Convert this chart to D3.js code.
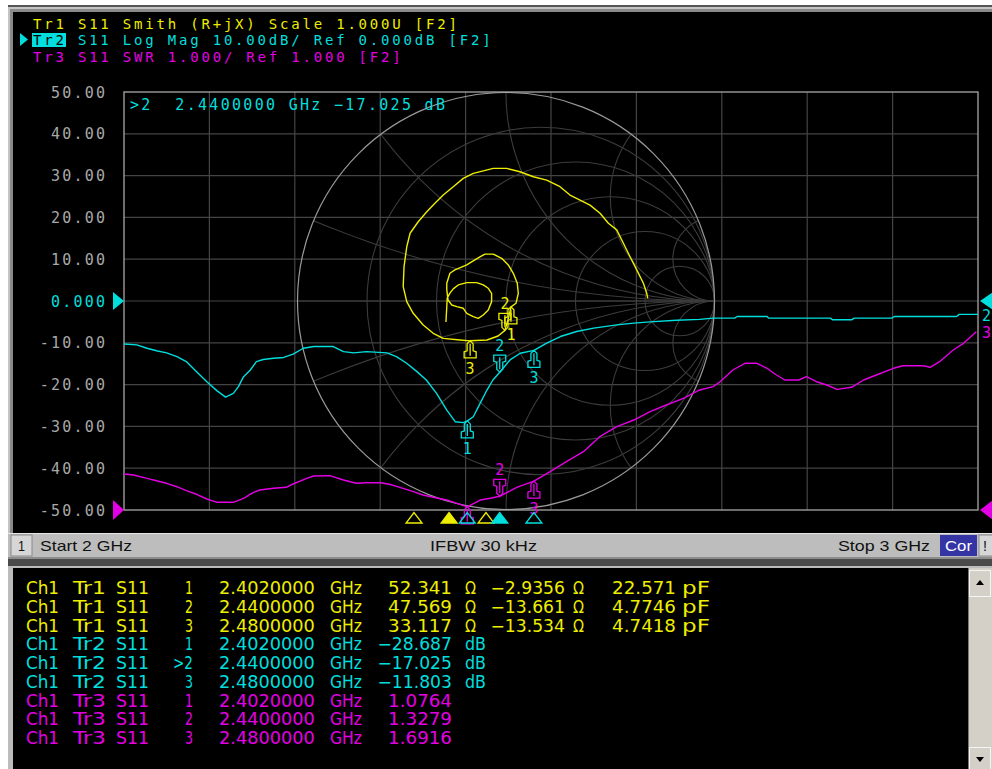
<!DOCTYPE html>
<html><head><meta charset="utf-8">
<script src="https://cdn.jsdelivr.net/npm/d3@7"></script>
<style>html,body{margin:0;padding:0;background:#fff;overflow:hidden}</style>
</head><body><svg id="c" width="992" height="769"></svg>
<script>
// ---- channel settings ----
const startGHz = 2, stopGHz = 3;
const yTicks = [50, 40, 30, 20, 10, 0, -10, -20, -30, -40, -50];
const yTickLabels = ["50.00", "40.00", "30.00", "20.00", "10.00", "0.000", "-10.00", "-20.00", "-30.00", "-40.00", "-50.00"];
const traceNames = ["Tr1", "Tr2", "Tr3"];
const traceSettings = [
  "S11 Smith (R+jX) Scale 1.000U [F2]",
  "S11 Log Mag 10.00dB/ Ref 0.000dB [F2]",
  "S11 SWR 1.000/ Ref 1.000 [F2]"
];
const smithR = [0.2, 0.5, 1, 2, 5];
const smithX = [0.2, 0.5, 1, 2, 5];

// ---- Tr2: S11 log magnitude (dB) ----
const tr2Freq = [2.000, 2.015, 2.027, 2.038, 2.050, 2.062, 2.073, 2.085, 2.097, 2.109, 2.119, 2.128, 2.134, 2.140, 2.148, 2.155, 2.163, 2.175, 2.187, 2.198, 2.210, 2.222, 2.245, 2.257, 2.269, 2.284, 2.308, 2.319, 2.331, 2.343, 2.354, 2.366, 2.378, 2.388, 2.397, 2.402, 2.409, 2.417, 2.425, 2.432, 2.440, 2.452, 2.464, 2.480, 2.495, 2.511, 2.530, 2.550, 2.577, 2.597, 2.616, 2.647, 2.674, 2.690, 2.715, 2.718, 2.753, 2.755, 2.827, 2.830, 2.852, 2.855, 2.899, 2.902, 2.975, 2.978, 3.000];
const tr2Db = [-10.3, -10.5, -11.3, -11.9, -12.4, -13.3, -14.5, -16.9, -19.3, -21.5, -23.0, -22.1, -20.5, -18.1, -16.5, -14.5, -14.0, -13.7, -13.5, -12.7, -11.3, -10.9, -10.9, -12.1, -12.4, -12.1, -12.4, -13.3, -14.9, -16.9, -18.9, -22.1, -26.1, -28.9, -29.1, -28.687, -27.7, -24.5, -21.3, -18.9, -17.025, -14.1, -12.5, -11.803, -10.1, -8.5, -7.3, -6.5, -5.7, -5.3, -5.0, -4.6, -4.4, -4.1, -4.1, -3.7, -3.7, -4.1, -4.1, -4.5, -4.5, -4.1, -4.1, -3.7, -3.7, -3.2, -3.2];

// ---- Tr3: S11 SWR ----
const tr3Freq = [2.000, 2.011, 2.027, 2.038, 2.050, 2.062, 2.073, 2.085, 2.097, 2.109, 2.128, 2.140, 2.151, 2.159, 2.175, 2.190, 2.198, 2.214, 2.222, 2.241, 2.257, 2.272, 2.284, 2.300, 2.311, 2.323, 2.339, 2.350, 2.362, 2.378, 2.390, 2.402, 2.417, 2.429, 2.440, 2.460, 2.480, 2.499, 2.518, 2.538, 2.557, 2.577, 2.597, 2.616, 2.635, 2.655, 2.674, 2.690, 2.698, 2.713, 2.727, 2.741, 2.753, 2.764, 2.774, 2.790, 2.799, 2.811, 2.823, 2.835, 2.852, 2.866, 2.881, 2.901, 2.912, 2.936, 2.944, 2.955, 2.971, 2.983, 2.998];
const tr3Swr = [1.861, 1.837, 1.758, 1.701, 1.639, 1.557, 1.462, 1.376, 1.263, 1.184, 1.184, 1.280, 1.414, 1.478, 1.519, 1.543, 1.622, 1.758, 1.813, 1.821, 1.718, 1.639, 1.653, 1.653, 1.615, 1.543, 1.438, 1.359, 1.304, 1.239, 1.160, 1.0764, 1.239, 1.280, 1.3279, 1.543, 1.6916, 1.916, 2.156, 2.395, 2.754, 2.993, 3.153, 3.352, 3.512, 3.672, 3.871, 3.950, 4.069, 4.349, 4.510, 4.510, 4.390, 4.230, 4.110, 4.110, 4.189, 4.069, 3.990, 3.887, 3.935, 4.110, 4.230, 4.390, 4.452, 4.452, 4.414, 4.548, 4.828, 4.988, 5.266];

// ---- Tr1: S11 reflection coefficient (real, imag), 2 GHz -> 3 GHz ----
const tr1Re = [-0.288, -0.284, -0.282, -0.269, -0.253, -0.229, -0.188, -0.141, -0.109, -0.085, -0.069, -0.069, -0.085, -0.109, -0.133, -0.157, -0.188, -0.205, -0.236, -0.260, -0.278, -0.284, -0.284, -0.269, -0.245, -0.188, -0.165, -0.125, -0.101, -0.061, -0.021, 0.011, 0.035, 0.054, 0.059, 0.048, 0.024, 0.012, -0.005, -0.038, -0.091, -0.172, -0.221, -0.301, -0.349, -0.397, -0.445, -0.476, -0.493, -0.489, -0.476, -0.460, -0.421, -0.380, -0.341, -0.301, -0.253, -0.205, -0.157, -0.061, 0.003, 0.067, 0.131, 0.195, 0.259, 0.307, 0.355, 0.403, 0.451, 0.491, 0.531, 0.563, 0.595, 0.627, 0.659, 0.675, 0.680];
const tr1Im = [-0.101, -0.027, 0.014, 0.038, 0.058, 0.077, 0.088, 0.088, 0.077, 0.061, 0.037, -0.003, -0.043, -0.067, -0.083, -0.075, -0.059, -0.035, -0.027, -0.019, 0.005, 0.053, 0.085, 0.133, 0.149, 0.173, 0.188, 0.212, 0.225, 0.225, 0.205, 0.173, 0.133, 0.085, 0.037, -0.011, -0.028, -0.082, -0.141, -0.168, -0.187, -0.191, -0.187, -0.179, -0.155, -0.115, -0.059, -0.003, 0.069, 0.165, 0.260, 0.325, 0.380, 0.428, 0.469, 0.508, 0.548, 0.588, 0.612, 0.636, 0.636, 0.620, 0.596, 0.580, 0.548, 0.508, 0.484, 0.460, 0.421, 0.373, 0.341, 0.277, 0.212, 0.149, 0.085, 0.037, 0.013];

// ---- markers ----
const markerFreq = [2.402, 2.44, 2.48];
const markerNames = ["1", "2", "3"];
const activeMarker = 1;
const tr1MarkR = [52.341, 47.569, 33.117];
const tr1MarkX = [-2.9356, -13.661, -13.534];
const tr1MarkC = [22.571, 4.7746, 4.7418];
const tr2MarkDb = [-28.687, -17.025, -11.803];
const tr3MarkSwr = [1.0764, 1.3279, 1.6916];
const z0 = 50;

// ---- status bar ----
const statusStart = "Start 2 GHz";
const statusIfbw = "IFBW 30 kHz";
const statusStop = "Stop 3 GHz";

const YELLOW = "#eeee00", CYAN = "#00dede", MAGENTA = "#e400e4";
const GRID = "#444", FRAME = "#a8a8a8", LABEL = "#a8a8a8";
const MONO = "'DejaVu Sans Mono', monospace";
const LS = 2.2;              // extra letter spacing of the instrument font (15px)
const TITLE_SIZE = 14;       // title lines
const TITLE_LS = 2.8;
const TITLE_ADV = 0.602 * TITLE_SIZE + TITLE_LS;

const svg = d3.select("#c");
svg.append("rect").attr("width", 992).attr("height", 769).attr("fill", "#fff");

// ---- window chrome ----
svg.append("rect").attr("x", 8).attr("y", 5).attr("width", 984).attr("height", 2).attr("fill", "#555");
svg.append("rect").attr("x", 8).attr("y", 7).attr("width", 984).attr("height", 560).attr("fill", "#c4c4c4");
svg.append("rect").attr("x", 10).attr("y", 9).attr("width", 982).attr("height", 524).attr("fill", "#8a8a8a");
svg.append("rect").attr("x", 13).attr("y", 12).attr("width", 979).attr("height", 521).attr("fill", "#000");

// ---- scales ----
const plot = { left: 124, right: 978, top: 92, bottom: 510 };
const x = d3.scaleLinear().domain([startGHz, stopGHz]).range([plot.left, plot.right]);
const yDb = d3.scaleLinear().domain([-50, 50]).range([plot.bottom, plot.top]);
const ySwr = d3.scaleLinear().domain([1, 11]).range([plot.bottom, plot.top]);
const smith = { cx: 506, cy: 301, r: 208.5 };
const gx = d3.scaleLinear().domain([-1, 1]).range([smith.cx - smith.r, smith.cx + smith.r]);
const gy = d3.scaleLinear().domain([-1, 1]).range([smith.cy + smith.r, smith.cy - smith.r]);
// stimulus position of the Smith trace markers on the marker bar
const xBar1 = d3.scaleLinear().domain([startGHz, stopGHz]).range([43, 966]);

const defs = svg.append("defs");
defs.append("clipPath").attr("id", "plotClip").append("rect")
  .attr("x", plot.left).attr("y", plot.top).attr("width", plot.right - plot.left).attr("height", plot.bottom - plot.top);
defs.append("clipPath").attr("id", "smithClip").append("circle")
  .attr("cx", smith.cx).attr("cy", smith.cy).attr("r", smith.r);

// ---- rectangular grid ----
const grid = svg.append("g").attr("stroke", GRID).attr("stroke-width", 1.2).attr("fill", "none");
grid.selectAll("line.v").data(d3.range(1, 10)).join("line")
  .attr("x1", i => x(startGHz + i * (stopGHz - startGHz) / 10)).attr("x2", i => x(startGHz + i * (stopGHz - startGHz) / 10))
  .attr("y1", plot.top).attr("y2", plot.bottom);
grid.selectAll("line.h").data(yTicks.slice(1, -1)).join("line")
  .attr("x1", plot.left).attr("x2", plot.right).attr("y1", d => yDb(d)).attr("y2", d => yDb(d));

// ---- Smith chart grid ----
const sg = svg.append("g").attr("clip-path", "url(#smithClip)").attr("stroke", "#3c3c3c").attr("stroke-width", 1.1).attr("fill", "none");
sg.selectAll("circle.r").data(smithR).join("circle")
  .attr("cx", r => gx(r / (1 + r))).attr("cy", gy(0)).attr("r", r => smith.r / (1 + r));
const xArcs = smithX.flatMap(v => [v, -v]);
sg.selectAll("circle.x").data(xArcs).join("circle")
  .attr("cx", gx(1)).attr("cy", v => gy(1 / v)).attr("r", v => smith.r / Math.abs(v));
sg.append("line").attr("x1", gx(-1)).attr("x2", gx(1)).attr("y1", gy(0)).attr("y2", gy(0));
svg.append("circle").attr("cx", smith.cx).attr("cy", smith.cy).attr("r", smith.r)
  .attr("fill", "none").attr("stroke", "#9a9a9a").attr("stroke-width", 1.2);

// ---- plot frame ----
svg.append("rect").attr("x", plot.left).attr("y", plot.top).attr("width", plot.right - plot.left).attr("height", plot.bottom - plot.top)
  .attr("fill", "none").attr("stroke", FRAME).attr("stroke-width", 1.3);

// ---- traces ----
const traces = svg.append("g").attr("clip-path", "url(#plotClip)").attr("fill", "none").attr("stroke-width", 1.4).attr("stroke-linejoin", "round");
const swrPts = tr3Freq.map((f, i) => [f, tr3Swr[i]]);
traces.append("path").attr("stroke", MAGENTA)
  .attr("d", d3.line().x(d => x(d[0])).y(d => ySwr(d[1]))(swrPts));
const dbPts = tr2Freq.map((f, i) => [f, tr2Db[i]]);
traces.append("path").attr("stroke", CYAN)
  .attr("d", d3.line().x(d => x(d[0])).y(d => yDb(d[1]))(dbPts));
const gPts = tr1Re.map((r, i) => [r, tr1Im[i]]);
traces.append("path").attr("stroke", YELLOW)
  .attr("d", d3.line().x(d => gx(d[0])).y(d => gy(d[1]))(gPts));

// ---- marker symbols ----
function markerPath(dir) {
  const s = dir;
  return `M0,0 L-3,${3 * s} L-3,${10 * s} L-6,${11 * s} L-6,${17 * s} L6,${17 * s} L6,${11 * s} L3,${10 * s} L3,${3 * s} Z M0,${3 * s} L0,${15 * s}`;
}
function drawMarker(px, py, name, color, up) {
  const dir = up ? -1 : 1;
  const g = svg.append("g").attr("transform", `translate(${px},${py})`);
  g.append("path").attr("d", markerPath(dir)).attr("fill", "none").attr("stroke", color).attr("stroke-width", 1.3);
  const ly = up ? -21 : 33;
  // a label that would fall under the status bar is not shown
  if (py + ly < plot.bottom + 18) {
    g.append("text").attr("x", 0).attr("y", ly).attr("text-anchor", "middle")
      .attr("fill", color).style("font-family", MONO).style("font-size", "15px").text(name);
  }
}
function gammaOf(R, X) {
  const zr = R / z0, zi = X / z0;
  const nr = zr - 1, ni = zi, dr = zr + 1, di = zi;
  const den = dr * dr + di * di;
  return [(nr * dr + ni * di) / den, (ni * dr - nr * di) / den];
}
markerFreq.forEach((f, i) => drawMarker(x(f), ySwr(tr3MarkSwr[i]), markerNames[i], MAGENTA, i === activeMarker));
markerFreq.forEach((f, i) => drawMarker(x(f), yDb(tr2MarkDb[i]), markerNames[i], CYAN, i === activeMarker));
markerFreq.forEach((f, i) => {
  const g = gammaOf(tr1MarkR[i], tr1MarkX[i]);
  drawMarker(gx(g[0]), gy(g[1]), markerNames[i], YELLOW, i === activeMarker);
});

// ---- marker bar below the graticule ----
function barTri(px, color, filled) {
  svg.append("path").attr("d", `M${px},${plot.bottom + 2.5} L${px - 8},${plot.bottom + 13} L${px + 8},${plot.bottom + 13} Z`)
    .attr("fill", filled ? color : "none").attr("stroke", color).attr("stroke-width", 1.3);
}
markerFreq.forEach((f, i) => barTri(xBar1(f), YELLOW, i === activeMarker));
markerFreq.forEach((f, i) => barTri(x(f), CYAN, i === activeMarker));

// ---- reference-position arrows and trace-end labels ----
svg.append("path").attr("d", `M${plot.left - 11},${yDb(0) - 9} L${plot.left},${yDb(0)} L${plot.left - 11},${yDb(0) + 9} Z`).attr("fill", CYAN);
svg.append("path").attr("d", `M${plot.left - 11},${ySwr(1) - 10} L${plot.left},${ySwr(1)} L${plot.left - 11},${ySwr(1) + 10} Z`).attr("fill", MAGENTA);
svg.append("text").attr("x", plot.right + 4).attr("y", yDb(tr2Db[tr2Db.length - 1]) + 7)
  .attr("fill", CYAN).style("font-family", MONO).style("font-size", "15px").text("2");
svg.append("text").attr("x", plot.right + 4).attr("y", ySwr(tr3Swr[tr3Swr.length - 1]) + 6)
  .attr("fill", MAGENTA).style("font-family", MONO).style("font-size", "15px").text("3");
svg.append("path").attr("d", `M${plot.right + 2},${yDb(0)} L${plot.right + 15},${yDb(0) - 9} L${plot.right + 15},${yDb(0) + 9} Z`).attr("fill", CYAN);
svg.append("path").attr("d", `M${plot.right + 2},${ySwr(1)} L${plot.right + 15},${ySwr(1) - 10} L${plot.right + 15},${ySwr(1) + 10} Z`).attr("fill", MAGENTA);

// ---- y tick labels ----
svg.append("g").selectAll("text").data(yTicks).join("text")
  .attr("x", 105 + LS).attr("y", d => yDb(d) + 5.5).attr("text-anchor", "end")
  .attr("fill", d => d === 0 ? CYAN : LABEL)
  .style("font-family", MONO).style("font-size", "15px").style("letter-spacing", LS + "px")
  .text((d, i) => yTickLabels[i]);

// ---- trace title lines ----
const titleColors = [YELLOW, CYAN, MAGENTA];
const titleY = [28.5, 45, 61.5];
const activeTrace = 1;
// active trace highlight box behind its name
svg.append("path").attr("d", "M20,33 L28,39.5 L20,46 Z").attr("fill", CYAN);
svg.append("rect").attr("x", 32).attr("y", 33).attr("width", 34).attr("height", 14).attr("fill", CYAN);
traceNames.forEach((t, i) => {
  svg.append("text").attr("x", 33).attr("y", titleY[i]).attr("fill", i === activeTrace ? "#000" : titleColors[i])
    .style("font-family", MONO).style("font-size", TITLE_SIZE + "px").style("letter-spacing", TITLE_LS + "px").text(t);
  svg.append("text").attr("x", 33 + 4 * TITLE_ADV).attr("y", titleY[i]).attr("fill", titleColors[i])
    .style("font-family", MONO).style("font-size", TITLE_SIZE + "px").style("letter-spacing", TITLE_LS + "px").text(traceSettings[i]);
});

// ---- active marker readout ----
const fmtF = d3.format(".7f");
const fmt5 = d3.format(".5");
svg.append("text").attr("x", 130).attr("y", 110).attr("fill", CYAN)
  .style("font-family", MONO).style("font-size", "15px").style("letter-spacing", "2.3px").style("white-space", "pre")
  .text(`>${markerNames[activeMarker]}  ${fmtF(markerFreq[activeMarker])} GHz ${fmt5(tr2MarkDb[activeMarker])} dB`);

// ---- status bar ----
svg.append("rect").attr("x", 8).attr("y", 533).attr("width", 984).attr("height", 24).attr("fill", "#bdbdbd");
svg.append("rect").attr("x", 8).attr("y", 533).attr("width", 984).attr("height", 1).attr("fill", "#e6e6e6");
svg.append("rect").attr("x", 11).attr("y", 535).attr("width", 21).attr("height", 21).attr("fill", "#d6d6d6").attr("stroke", "#8a8a8a");
const SANS = "'Liberation Sans', Arial, sans-serif";
function fit(str, x0, w, y, color, size) {
  return svg.append("text").attr("x", x0).attr("y", y).attr("textLength", w).attr("lengthAdjust", "spacingAndGlyphs")
    .attr("fill", color).style("font-family", SANS).style("font-size", size + "px").text(str);
}
fit("1", 18, 7, 551, "#111", 15);
fit(statusStart, 40, 92, 551, "#111", 15);
fit(statusIfbw, 430, 107, 551, "#111", 15);
fit(statusStop, 838, 92, 551, "#111", 15);
svg.append("rect").attr("x", 940).attr("y", 535).attr("width", 37).attr("height", 21).attr("fill", "#3434a4");
fit("Cor", 945, 27, 551, "#fff", 15);
svg.append("rect").attr("x", 979).attr("y", 535).attr("width", 14).attr("height", 21).attr("fill", "#d6d6d6").attr("stroke", "#8a8a8a");
fit("!", 983, 4, 551, "#111", 15);

// separator and marker table panel
svg.append("rect").attr("x", 8).attr("y", 557).attr("width", 984).attr("height", 9).attr("fill", "#4a4a4a");
svg.append("rect").attr("x", 8).attr("y", 557).attr("width", 984).attr("height", 2).attr("fill", "#8c8c8c");
svg.append("rect").attr("x", 8).attr("y", 566).attr("width", 984).attr("height", 203).attr("fill", "#bcbcbc");
svg.append("rect").attr("x", 13).attr("y", 568).attr("width", 955).attr("height", 201).attr("fill", "#000");

// scrollbar
svg.append("rect").attr("x", 968).attr("y", 568).attr("width", 24).attr("height", 201).attr("fill", "#d4d0c8");
svg.append("rect").attr("x", 969.5).attr("y", 570.5).attr("width", 21).attr("height", 26).attr("fill", "#d4d0c8").attr("stroke", "#f4f4f4");
svg.append("rect").attr("x", 969.5).attr("y", 747.5).attr("width", 21).attr("height", 22).attr("fill", "#d4d0c8").attr("stroke", "#f4f4f4");
svg.append("line").attr("x1", 968.5).attr("x2", 968.5).attr("y1", 568).attr("y2", 769).attr("stroke", "#7a7a7a");
svg.append("path").attr("d", "M980,580 L984,585 L976,585 Z").attr("fill", "#000");
svg.append("path").attr("d", "M976,757 L984,757 L980,762 Z").attr("fill", "#000");

// ---- marker table ----
const rows = [];
markerFreq.forEach((f, i) => rows.push({ tr: traceNames[0], id: markerNames[i], f, vals: [[fmt5(tr1MarkR[i]), "\u03a9"], [fmt5(tr1MarkX[i]), "\u03a9"], [fmt5(tr1MarkC[i]), "pF"]], color: YELLOW }));
markerFreq.forEach((f, i) => rows.push({ tr: traceNames[1], id: (i === activeMarker ? ">" : "") + markerNames[i], f, vals: [[fmt5(tr2MarkDb[i]), "dB"]], color: CYAN }));
markerFreq.forEach((f, i) => rows.push({ tr: traceNames[2], id: markerNames[i], f, vals: [[fmt5(tr3MarkSwr[i]), ""]], color: MAGENTA }));
const TF = "'DejaVu Sans', sans-serif";
const CW = 10.65;
function cell(str, x0, w, y, color) {
  svg.append("text").attr("x", x0).attr("y", y).attr("textLength", w).attr("lengthAdjust", "spacingAndGlyphs")
    .attr("fill", color).style("font-family", TF).style("font-size", "17px").text(str);
}
const valRight = [452, 565, 676];
const unitX = [465, 573, 682];
rows.forEach((r, k) => {
  const y = 594 + k * 18.75;
  cell("Ch1", 26, 33, y, r.color);
  cell(r.tr, 73, 33, y, r.color);
  cell("S11", 116, 33, y, r.color);
  const idW = r.id.length === 1 ? 8 : 20;
  cell(r.id, 193 - idW, idW, y, r.color);
  const fs = fmtF(r.f);
  cell(fs, 219, fs.length * CW, y, r.color);
  cell("GHz", 330, 32, y, r.color);
  r.vals.forEach((v, j) => {
    const w = v[0].length * CW;
    cell(v[0], valRight[j] - w, w, y, r.color);
    if (v[1]) cell(v[1], unitX[j], v[1] === "\u03a9" ? 11 : (v[1] === "dB" ? 21 : 28), y, r.color);
  });
});
</script></body></html>
